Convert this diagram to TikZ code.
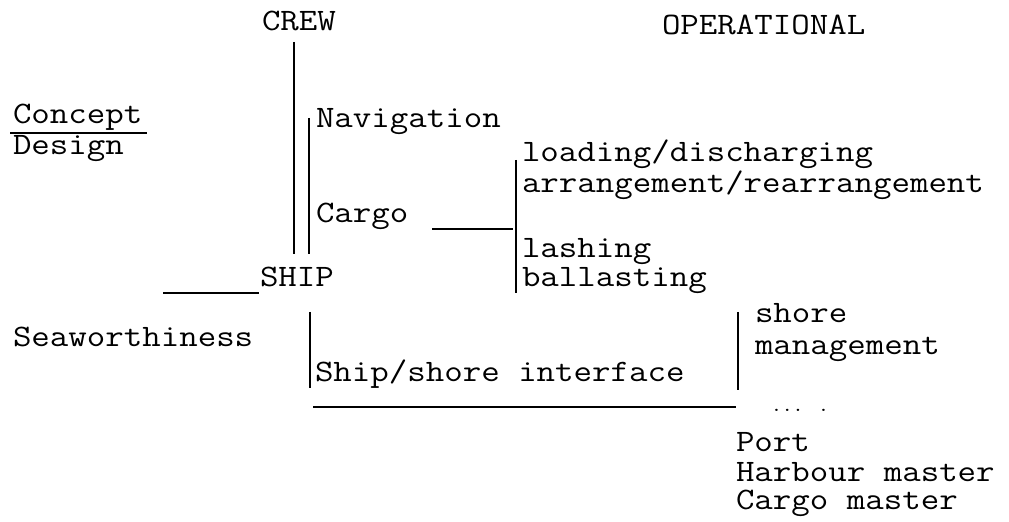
\documentclass[tikz,border=0pt]{standalone}
\usepackage{graphicx}
\newcommand{\tw}[1]{\scalebox{1.15}[1]{#1}}
\begin{document}
\begin{tikzpicture}[x=0.5pt,y=-0.5pt,
  lbl/.style={anchor=base west,inner sep=0pt,outer sep=0pt,font=\ttfamily\fontsize{15.6}{15.6}\selectfont},
  tiny/.style={anchor=base west,inner sep=0pt,outer sep=0pt,font=\ttfamily\fontsize{9}{9}\selectfont},
  bar/.style={line width=1.4pt,line cap=butt}]
\useasboundingbox (0,0) rectangle (1009,522);
% texts
\node[lbl] (crew) at (262,31) {\tw{CREW}};
\node[lbl] (oper) at (662,35) {\tw{OPERATIONAL}};
\node[lbl] (concept) at (13,124) {\tw{Concept}};
\node[lbl] (design) at (13,155) {\tw{Design}};
\node[lbl] (nav) at (316,128) {\tw{Navigation}};
\node[lbl] (cargo) at (316,223) {\tw{Cargo}};
\node[lbl] (load) at (522,162) {\tw{loading/discharging}};
\node[lbl] (arr) at (522,193) {\tw{arrangement/rearrangement}};
\node[lbl] (lash) at (522,258) {\tw{lashing}};
\node[lbl] (ball) at (522,287) {\tw{ballasting}};
\node[lbl] (ship) at (260,287) {\tw{SHIP}};
\node[lbl] (sea) at (13,347) {\tw{Seaworthiness}};
\node[lbl] (iface) at (315,382) {\tw{Ship/shore interface}};
\node[lbl] (shore) at (755,323) {\tw{shore}};
\node[lbl] (mgmt) at (755,355) {\tw{management}};
\node[tiny] (dots) at (771,412) {\scalebox{1.15}[1]{... .}};
\node[lbl] (port) at (736,452) {\tw{Port}};
\node[lbl] (harb) at (736,482) {\tw{Harbour master}};
\node[lbl] (cmast) at (736,510) {\tw{Cargo master}};
% coordinates
\coordinate (v1t) at (294,42);   \coordinate (v1b) at (294,254);
\coordinate (v2t) at (309,118);  \coordinate (v2b) at (309,254);
\coordinate (sl) at (163,293);   \coordinate (sr) at (259,293);
\coordinate (cl) at (432,229);   \coordinate (cr) at (513,229);
\coordinate (v3t) at (516,160);  \coordinate (v3b) at (516,293);
\coordinate (v4t) at (310,312);  \coordinate (v4b) at (310,388);
\coordinate (v5t) at (738,312);  \coordinate (v5b) at (738,390);
\coordinate (hl) at (313,407);   \coordinate (hr) at (736,407);
\coordinate (ul) at (10,133);    \coordinate (ur) at (147,133);
% lines
\draw[bar] (v1t) -- (v1b);
\draw[bar] (v2t) -- (v2b);
\draw[bar] (sl) -- (sr);
\draw[bar] (cl) -- (cr);
\draw[bar] (v3t) -- (v3b);
\draw[bar] (v4t) -- (v4b);
\draw[bar] (v5t) -- (v5b);
\draw[bar] (hl) -- (hr);
\draw[bar,line width=1.2pt] (ul) -- (ur);
\end{tikzpicture}
\end{document}
